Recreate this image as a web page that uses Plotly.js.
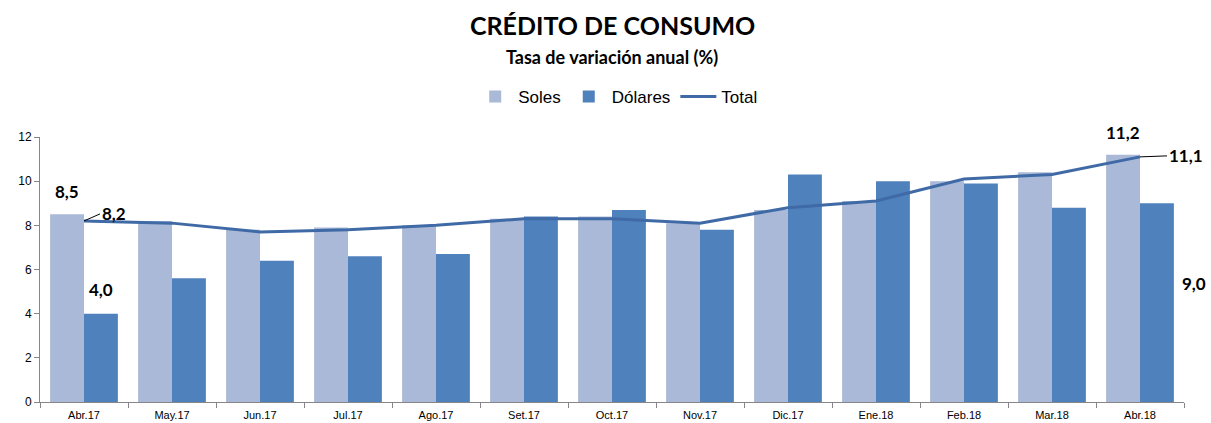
<!DOCTYPE html>
<html>
<head>
<meta charset="utf-8">
<script src="https://cdn.plot.ly/plotly-3.0.1.min.js"></script>
<style>html,body{margin:0;padding:0;background:#fff;}#chart{width:1211px;height:423px;}</style>
</head>
<body>
<div id="chart"></div>
<script>
const categories = ['Abr.17','May.17','Jun.17','Jul.17','Ago.17','Set.17','Oct.17','Nov.17','Dic.17','Ene.18','Feb.18','Mar.18','Abr.18'];
const soles   = [8.5, 8.2, 7.8, 7.9, 8.0, 8.3, 8.4, 8.1, 8.7, 9.1, 10.0, 10.4, 11.2];
const dolares = [4.0, 5.6, 6.4, 6.6, 6.7, 8.4, 8.7, 7.8, 10.3, 10.0, 9.9, 8.8, 9.0];
const total   = [8.2, 8.1, 7.7, 7.8, 8.0, 8.3, 8.3, 8.1, 8.8, 9.1, 10.1, 10.3, 11.1];
const yTicks  = [0, 2, 4, 6, 8, 10, 12];

const fmt = v => v.toFixed(1).replace('.', ',');
const last = categories.length - 1;
const labelFont = {family: 'Lato, "Open Sans", sans-serif', size: 17, color: '#000'};

const traces = [
  {type: 'bar', name: 'Soles', x: categories, y: soles, marker: {color: '#A9B9D7'}},
  {type: 'bar', name: 'Dólares', x: categories, y: dolares, marker: {color: '#4F81BD'}},
  {type: 'scatter', mode: 'lines', name: 'Total', x: categories, y: total,
   line: {color: '#3F6AA6', width: 3}}
];

const annotations = [
  {xref: 'paper', yref: 'paper', x: 0.5, y: 1, yanchor: 'middle', yshift: 112, showarrow: false,
   text: '<b>CRÉDITO DE CONSUMO</b>', font: {family: 'Lato, "Open Sans", sans-serif', size: 25, color: '#000'}},
  {xref: 'paper', yref: 'paper', x: 0.5, y: 1, yanchor: 'middle', yshift: 80, showarrow: false,
   text: '<b>Tasa de variación anual (%)</b>', font: {family: 'Lato, "Open Sans", sans-serif', size: 18, color: '#000'}},
  {x: categories[0], y: soles[0], xshift: -17, yshift: 10, yanchor: 'bottom', showarrow: false,
   text: '<b>' + fmt(soles[0]) + '</b>', font: labelFont},
  {x: categories[0], y: dolares[0], xshift: 17, yshift: 12, yanchor: 'bottom', showarrow: false,
   text: '<b>' + fmt(dolares[0]) + '</b>', font: labelFont},
  {x: categories[0], y: total[0], showarrow: true, arrowhead: 0, arrowwidth: 1, arrowcolor: '#000',
   ax: 16, ay: -7, xanchor: 'left', text: '<b>' + fmt(total[0]) + '</b>', font: labelFont},
  {x: categories[last], y: soles[last], xshift: -17, yshift: 10, yanchor: 'bottom', showarrow: false,
   text: '<b>' + fmt(soles[last]) + '</b>', font: labelFont},
  {x: categories[last], y: total[last], showarrow: true, arrowhead: 0, arrowwidth: 1, arrowcolor: '#000',
   ax: 27, ay: -1, xanchor: 'left', text: '<b>' + fmt(total[last]) + '</b>', font: labelFont},
  {x: categories[last], y: dolares[last] / 2, xshift: 40, yshift: 19, xanchor: 'left', showarrow: false,
   text: '<b>' + fmt(dolares[last]) + '</b>', font: labelFont}
];

const layout = {
  width: 1211, height: 423,
  margin: {l: 40, r: 27, t: 137, b: 21},
  paper_bgcolor: '#fff', plot_bgcolor: '#fff',
  barmode: 'group', bargap: 0.23, bargroupgap: 0,
  showlegend: true,
  legend: {orientation: 'h', x: 0.505, xanchor: 'center', y: 1.151, yanchor: 'middle', yref: 'paper',
           font: {family: '"Liberation Sans", Arial, sans-serif', size: 17, color: '#000'},
           traceorder: 'normal', itemwidth: 36},
  xaxis: {type: 'category', range: [-0.5, categories.length - 0.5], showgrid: false, zeroline: false,
          showline: true, linecolor: '#868686', linewidth: 1,
          ticks: 'outside', tickson: 'boundaries', ticklen: 5, tickcolor: '#868686', ticklabelstandoff: 3,
          tickfont: {family: '"Liberation Sans", Arial, sans-serif', size: 11, color: '#000'}, fixedrange: true},
  yaxis: {range: [0, 12], tickvals: yTicks, ticktext: yTicks.map(String), showgrid: false, zeroline: false,
          showline: true, linecolor: '#868686', linewidth: 1, ticks: 'outside', ticklen: 5, tickcolor: '#868686',
          tickfont: {family: '"Liberation Sans", Arial, sans-serif', size: 12, color: '#000'}, fixedrange: true},
  annotations: annotations
};

Plotly.newPlot('chart', traces, layout, {displayModeBar: false, staticPlot: true});
</script>
</body>
</html>
